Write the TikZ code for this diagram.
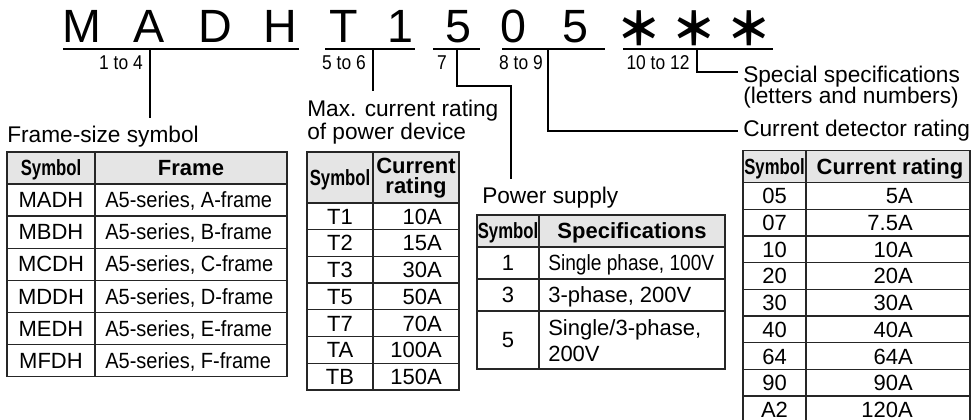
\documentclass[tikz,border=0pt]{standalone}
\usepackage{fontspec}
\setmainfont{Liberation Sans}
\newfontfamily\narrowfont[FakeStretch=0.87]{Liberation Sans}
\newfontfamily\midfont[FakeStretch=0.91]{Liberation Sans}
\newfontfamily\condfont[FakeStretch=0.76]{Liberation Sans}
\newfontfamily\starfont{Noto Sans CJK JP}

\begin{document}
\begin{tikzpicture}[x=0.75pt,y=-0.75pt]
  \tikzset{CodeStyle/.style = {
    anchor        = base,
    inner sep     = 0pt,
    font          = \fontsize{35}{35}\selectfont
    }
  }
  \tikzset{StarStyle/.style = {
    anchor        = center,
    inner sep     = 0pt,
    font          = \starfont\bfseries\fontsize{34}{34}\selectfont
    }
  }
  \tikzset{RangeStyle/.style = {
    anchor        = base,
    inner sep     = 0pt,
    font          = \narrowfont\fontsize{15}{15}\selectfont
    }
  }
  \tikzset{LabelStyle/.style = {
    anchor        = base west,
    inner sep     = 0pt,
    align         = left,
    font          = \fontsize{17}{17.5}\selectfont
    }
  }
  \tikzset{HeadStyle/.style = {
    anchor        = base,
    inner sep     = 0pt,
    font          = \bfseries\fontsize{16.5}{15}\selectfont
    }
  }
  \tikzset{SymHeadStyle/.style = {
    anchor        = base,
    inner sep     = 0pt,
    font          = \condfont\bfseries\fontsize{16.5}{16.5}\selectfont
    }
  }
  \tikzset{CellStyle/.style = {
    anchor        = base,
    inner sep     = 0pt,
    font          = \fontsize{16.5}{20}\selectfont
    }
  }
  \tikzset{TableStyle/.style = {
    draw          = black!85,
    line width    = 0.9pt
    }
  }
  \tikzset{HeadFill/.style = {
    fill          = black!10
    }
  }
  \tikzset{LineStyle/.style = {
    draw          = black,
    line width    = 0.8pt
    }
  }

  \useasboundingbox (0,0) rectangle (971,420);

  % model code
  \node[CodeStyle](C1) at (82,43) {M};
  \node[CodeStyle](C2) at (149,43) {A};
  \node[CodeStyle](C3) at (215,43) {D};
  \node[CodeStyle](C4) at (280,43) {H};
  \node[CodeStyle](C5) at (344,43) {T};
  \node[CodeStyle](C6) at (400,43) {1};
  \node[CodeStyle](C7) at (458,43) {5};
  \node[CodeStyle](C8) at (513,43) {0};
  \node[CodeStyle](C9) at (575,43) {5};
  \node[StarStyle](C10) at (639,28) {＊};
  \node[StarStyle](C11) at (694,28) {＊};
  \node[StarStyle](C12) at (749,28) {＊};

  \draw[LineStyle] (63,49) -- (299,49) (325,49) -- (415,49) (433,49) -- (480,49)
    (502,49) -- (605,49) (623,49) -- (773,49);

  \node[RangeStyle](R1) at (121,70) {1 to 4};
  \node[RangeStyle](R2) at (344,70) {5 to 6};
  \node[RangeStyle](R3) at (442,70) {7};
  \node[RangeStyle](R4) at (521,70) {8 to 9};
  \node[RangeStyle](R5) at (658,70) {10 to 12};

  % captions
  \node[LabelStyle](LFrame) at (7,143) {Frame-size symbol};
  \node[LabelStyle](LMax) at (307,140) {Max. current rating\\of power device};
  \node[LabelStyle](LPower) at (482,204) {Power supply};
  \node[LabelStyle](LDetector) at (743,137) {Current detector rating};
  \node[LabelStyle](LSpecial) at (743,103.5) {Special specifications\\[-1.5pt](letters and numbers)};

  \coordinate (U1) at (150,49);
  \coordinate (E1) at (150,118);
  \coordinate (U2) at (373,49);
  \coordinate (E2) at (373,91);
  \coordinate (U3) at (457,49);
  \coordinate (K3) at (511,86);
  \coordinate (E3) at (511,179);
  \coordinate (U4) at (548,49);
  \coordinate (K4) at (738,131);
  \coordinate (U5) at (697,49);
  \coordinate (K5) at (738,72);
  \draw[LineStyle] (U1) -- (E1);
  \draw[LineStyle] (U2) -- (E2);
  \draw[LineStyle] (U3) |- (K3) -- (E3);
  \draw[LineStyle] (U4) |- (K4);
  \draw[LineStyle] (U5) |- (K5);

  % frame-size table
  \fill[HeadFill] (7,152) rectangle (287,184);
  \draw[TableStyle] (7,152) rectangle (287,376.7) (95,152) -- (95,376.7)
    (7,184) -- (287,184) (7,216.1) -- (287,216.1) (7,248.2) -- (287,248.2)
    (7,280.3) -- (287,280.3) (7,312.4) -- (287,312.4) (7,344.5) -- (287,344.5);
  \node[SymHeadStyle](F0a) at (51,176) {Symbol};
  \node[HeadStyle](F0b) at (191,176) {Frame};
  \node[CellStyle](F1a) at (51,208) {MADH};
  \node[CellStyle](F2a) at (51,240) {MBDH};
  \node[CellStyle](F3a) at (51,272) {MCDH};
  \node[CellStyle](F4a) at (51,304.5) {MDDH};
  \node[CellStyle](F5a) at (51,336.5) {MEDH};
  \node[CellStyle](F6a) at (51,368.5) {MFDH};
  \node[CellStyle, anchor=base west, font=\midfont\fontsize{16.5}{20}\selectfont](F1b) at (105,208) {A5-series, A-frame};
  \node[CellStyle, anchor=base west, font=\midfont\fontsize{16.5}{20}\selectfont](F2b) at (105,240) {A5-series, B-frame};
  \node[CellStyle, anchor=base west, font=\midfont\fontsize{16.5}{20}\selectfont](F3b) at (105,272) {A5-series, C-frame};
  \node[CellStyle, anchor=base west, font=\midfont\fontsize{16.5}{20}\selectfont](F4b) at (105,304.5) {A5-series, D-frame};
  \node[CellStyle, anchor=base west, font=\midfont\fontsize{16.5}{20}\selectfont](F5b) at (105,336.5) {A5-series, E-frame};
  \node[CellStyle, anchor=base west, font=\midfont\fontsize{16.5}{20}\selectfont](F6b) at (105,368.5) {A5-series, F-frame};

  % current rating table
  \fill[HeadFill] (307,152) rectangle (459,203);
  \draw[TableStyle] (307,152) rectangle (459,389.9) (373,152) -- (373,389.9)
    (307,203) -- (459,203) (307,229.7) -- (459,229.7) (307,256.4) -- (459,256.4)
    (307,283.1) -- (459,283.1) (307,309.8) -- (459,309.8) (307,336.5) -- (459,336.5)
    (307,363.2) -- (459,363.2);
  \node[SymHeadStyle](M0a) at (340,185.5) {Symbol};
  \node[HeadStyle, anchor=center, align=center](M0b) at (416,178.5) {Current\\rating};
  \node[CellStyle](M1a) at (340,224.4) {T1};
  \node[CellStyle](M2a) at (340,251) {T2};
  \node[CellStyle](M3a) at (340,277.8) {T3};
  \node[CellStyle](M4a) at (340,304.5) {T5};
  \node[CellStyle](M5a) at (340,331.2) {T7};
  \node[CellStyle](M6a) at (340,357.9) {TA};
  \node[CellStyle](M7a) at (340,384.6) {TB};
  \node[CellStyle, anchor=base east](M1b) at (442,224.4) {10A};
  \node[CellStyle, anchor=base east](M2b) at (442,251) {15A};
  \node[CellStyle, anchor=base east](M3b) at (442,277.8) {30A};
  \node[CellStyle, anchor=base east](M4b) at (442,304.5) {50A};
  \node[CellStyle, anchor=base east](M5b) at (442,331.2) {70A};
  \node[CellStyle, anchor=base east](M6b) at (442,357.9) {100A};
  \node[CellStyle, anchor=base east](M7b) at (442,384.6) {150A};

  % power supply table
  \fill[HeadFill] (477,215) rectangle (725,247);
  \draw[TableStyle] (477,215) rectangle (725,369) (539,215) -- (539,369)
    (477,247) -- (725,247) (477,279) -- (725,279) (477,311) -- (725,311);
  \node[SymHeadStyle](P0a) at (508,239) {Symbol};
  \node[HeadStyle](P0b) at (632,239) {Specifications};
  \node[CellStyle](P1a) at (508,271) {1};
  \node[CellStyle](P2a) at (508,303) {3};
  \node[CellStyle](P3a) at (508,348) {5};
  \node[CellStyle, anchor=base west, font=\narrowfont\fontsize{16.5}{20}\selectfont](P1b) at (548,271) {Single phase, 100V};
  \node[CellStyle, anchor=base west](P2b) at (548,303) {3-phase, 200V};
  \node[CellStyle, anchor=base west, align=left](P3b) at (548,361.7) {Single/3-phase,\\200V};

  % current detector table
  \fill[HeadFill] (743,150.7) rectangle (970,182.7);
  \draw[TableStyle] (743,421) -- (743,150.7) -- (970,150.7) -- (970,421)
    (806,150.7) -- (806,421)
    (743,182.7) -- (970,182.7) (743,209.3) -- (970,209.3) (743,236) -- (970,236)
    (743,262.7) -- (970,262.7) (743,289.3) -- (970,289.3) (743,316) -- (970,316)
    (743,342.7) -- (970,342.7) (743,369.3) -- (970,369.3) (743,396) -- (970,396);
  \node[SymHeadStyle](D0a) at (774.5,174.7) {Symbol};
  \node[HeadStyle](D0b) at (890,174.7) {Current rating};
  \node[CellStyle](D1a) at (774.5,204) {05};
  \node[CellStyle](D2a) at (774.5,230.7) {07};
  \node[CellStyle](D3a) at (774.5,257.3) {10};
  \node[CellStyle](D4a) at (774.5,284) {20};
  \node[CellStyle](D5a) at (774.5,310.7) {30};
  \node[CellStyle](D6a) at (774.5,337.3) {40};
  \node[CellStyle](D7a) at (774.5,364) {64};
  \node[CellStyle](D8a) at (774.5,390.7) {90};
  \node[CellStyle](D9a) at (774.5,417.3) {A2};
  \node[CellStyle, anchor=base east](D1b) at (913,204) {5A};
  \node[CellStyle, anchor=base east](D2b) at (913,230.7) {7.5A};
  \node[CellStyle, anchor=base east](D3b) at (913,257.3) {10A};
  \node[CellStyle, anchor=base east](D4b) at (913,284) {20A};
  \node[CellStyle, anchor=base east](D5b) at (913,310.7) {30A};
  \node[CellStyle, anchor=base east](D6b) at (913,337.3) {40A};
  \node[CellStyle, anchor=base east](D7b) at (913,364) {64A};
  \node[CellStyle, anchor=base east](D8b) at (913,390.7) {90A};
  \node[CellStyle, anchor=base east](D9b) at (913,417.3) {120A};

\end{tikzpicture}
\end{document}
